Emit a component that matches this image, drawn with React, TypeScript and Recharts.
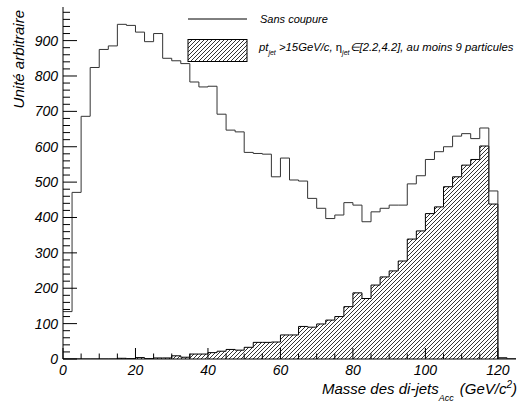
import React from 'react';
import {
  ComposedChart,
  Line,
  Area,
  XAxis,
  YAxis,
  Legend,
} from 'recharts';

// histogrammes : 50 bins de 2.5 GeV/c2 entre 0 et 125
const BIN_WIDTH = 2.5;

const sansCoupure = [
  134, 471, 686, 824, 875, 885, 946, 943, 924, 897,
  920, 850, 843, 835, 783, 769, 771, 692, 647, 642,
  584, 581, 579, 515, 568, 506, 503, 454, 426, 397,
  407, 442, 435, 388, 416, 426, 435, 435, 495, 518,
  564, 586, 600, 630, 637, 623, 653, 475, 4, 0,
];

const avecCoupure = [
  0, 0, 0, 0, 0, 0, 2, 1, 4, 1,
  3, 3, 9, 5, 14, 14, 18, 22, 27, 25,
  33, 47, 47, 48, 68, 68, 92, 90, 99, 110,
  120, 148, 187, 171, 209, 232, 249, 277, 339, 362,
  411, 430, 487, 515, 548, 564, 602, 438, 0, 0,
];

const xTicks = [0, 5, 10, 15, 20, 25, 30, 35, 40, 45, 50, 55, 60, 65, 70, 75, 80, 85, 90, 95, 100, 105, 110, 115, 120];
const yTicks = [
  0, 20, 40, 60, 80, 100, 120, 140, 160, 180, 200, 220, 240, 260, 280, 300, 320, 340, 360, 380,
  400, 420, 440, 460, 480, 500, 520, 540, 560, 580, 600, 620, 640, 660, 680, 700, 720, 740, 760, 780,
  800, 820, 840, 860, 880, 900, 920, 940, 960, 980,
];
const X_MAX = 125;
const Y_MAX = 995;

const chartData = sansCoupure
  .map((v, i) => ({ m: i * BIN_WIDTH, sans: v, coupe: avecCoupure[i] }))
  .concat([{ m: sansCoupure.length * BIN_WIDTH, sans: 0, coupe: 0 }]);

const FONT = '"Liberation Sans", Arial, Helvetica, sans-serif';

function XTick({ x, y, payload }: any) {
  const major = payload.value % 20 === 0;
  return (
    <g>
      <line x1={x} y1={y} x2={x} y2={y - (major ? 11 : 5.5)} stroke="#000" />
      {major && (
        <text x={x} y={y + 16} textAnchor="middle" fontSize={14} fontStyle="italic" fontFamily={FONT} fill="#000">
          {payload.value}
        </text>
      )}
    </g>
  );
}

function YTick({ x, y, payload }: any) {
  const major = payload.value % 100 === 0;
  return (
    <g>
      <line x1={x} y1={y} x2={x + (major ? 14 : 7)} y2={y} stroke="#000" />
      {major && (
        <text x={x - 5} y={y + 5} textAnchor="end" fontSize={14} fontStyle="italic" fontFamily={FONT} fill="#000">
          {payload.value}
        </text>
      )}
    </g>
  );
}

function XTitle() {
  return (
    <text x={517} y={394} textAnchor="end" fontSize={15} fontStyle="italic" fontFamily={FONT} fill="#000">
      Masse des di-jets
      <tspan dy={7} fontSize={9}>Acc</tspan>
      <tspan dy={-7} dx={6}>(GeV/c</tspan>
      <tspan dy={-6} fontSize={10}>2</tspan>
      <tspan dy={6}>)</tspan>
    </text>
  );
}

function YTitle() {
  return (
    <text
      x={24}
      y={10}
      transform="rotate(-90 24 10)"
      textAnchor="end"
      fontSize={15}
      fontStyle="italic"
      fontFamily={FONT}
      fill="#000"
    >
      Unité arbitraire
    </text>
  );
}

function LegendBox() {
  return (
    <svg width={518} height={70} style={{ display: 'block' }}>
      <defs>
        <pattern id="hatchLegend" width={4} height={4} patternUnits="userSpaceOnUse">
          <path d="M-1,1 l2,-2 M0,4 l4,-4 M3,5 l2,-2" stroke="#000" strokeWidth={0.8} />
        </pattern>
      </defs>
      <line x1={188} y1={19} x2={247} y2={19} stroke="#000" />
      <text x={260} y={23} fontSize={11} fontStyle="italic" fontFamily={FONT} fill="#000">
        Sans coupure
      </text>
      <rect x={188} y={39.5} width={59} height={22} fill="url(#hatchLegend)" stroke="#000" />
      <text x={259} y={51} fontSize={11.3} fontStyle="italic" fontFamily={FONT} fill="#000">
        pt
        <tspan dy={4} fontSize={7}>jet</tspan>
        <tspan dy={-4}> &gt;15GeV/c, </tspan>
        <tspan fontStyle="normal">η</tspan>
        <tspan dy={4} fontSize={7}>jet</tspan>
        <tspan dy={-4}>∈[2.2,4.2], au moins 9 particules</tspan>
      </text>
    </svg>
  );
}

export default function App() {
  return (
    <div style={{ position: 'absolute', left: 0, top: 0, width: 518, height: 407, background: '#fff' }}>
      <ComposedChart
        width={518}
        height={407}
        data={chartData}
        margin={{ top: 7, right: 2, bottom: 0, left: 0 }}
      >
        <defs>
          <pattern id="hatch" width={4} height={4} patternUnits="userSpaceOnUse">
            <path d="M-1,1 l2,-2 M0,4 l4,-4 M3,5 l2,-2" stroke="#000" strokeWidth={0.8} />
          </pattern>
        </defs>
        <XAxis
          dataKey="m"
          type="number"
          domain={[0, X_MAX]}
          allowDataOverflow
          ticks={xTicks}
          interval={0}
          tickSize={0}
          tickMargin={0}
          tickLine={false}
          tick={<XTick />}
          axisLine={{ stroke: '#000' }}
          height={48}
          label={{ content: <XTitle /> }}
        />
        <XAxis
          xAxisId="top"
          orientation="top"
          type="number"
          domain={[0, X_MAX]}
          height={0}
          tick={false}
          tickLine={false}
          axisLine={{ stroke: '#000' }}
        />
        <YAxis
          type="number"
          domain={[0, Y_MAX]}
          allowDataOverflow
          ticks={yTicks}
          interval={0}
          tickSize={0}
          tickMargin={0}
          tickLine={false}
          tick={<YTick />}
          axisLine={{ stroke: '#000' }}
          width={63}
          label={{ content: <YTitle /> }}
        />
        <YAxis
          yAxisId="right"
          orientation="right"
          type="number"
          domain={[0, Y_MAX]}
          width={0}
          tick={false}
          tickLine={false}
          axisLine={{ stroke: '#000' }}
        />
        <Line
          type="stepAfter"
          dataKey="sans"
          stroke="#333"
          strokeWidth={1}
          dot={false}
          activeDot={false}
          isAnimationActive={false}
        />
        <Area
          type="stepAfter"
          dataKey="coupe"
          stroke="#000"
          strokeWidth={1}
          fill="url(#hatch)"
          fillOpacity={1}
          dot={false}
          activeDot={false}
          isAnimationActive={false}
        />
        <Legend
          layout="horizontal"
          verticalAlign="middle"
          align="center"
          content={<LegendBox />}
          wrapperStyle={{ left: 0, top: 0, width: 518, height: 70, margin: 0, padding: 0 }}
        />
      </ComposedChart>
    </div>
  );
}
